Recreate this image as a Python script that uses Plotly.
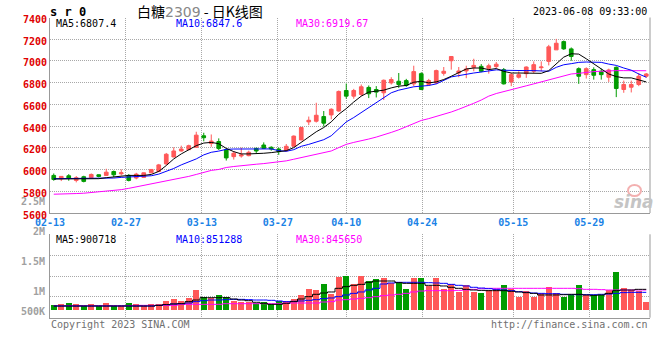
import plotly.graph_objects as go

# ---------------- data ----------------
DATES = ["02-13","02-14","02-15","02-16","02-17","02-20","02-21","02-22","02-23","02-24",
         "02-27","02-28","03-01","03-02","03-03","03-06","03-07","03-08","03-09","03-10",
         "03-13","03-14","03-15","03-16","03-17","03-20","03-21","03-22","03-23","03-24",
         "03-27","03-28","03-29","03-30","03-31","04-03","04-04","04-06","04-07",
         "04-10","04-11","04-12","04-13","04-14","04-17","04-18","04-19","04-20","04-21",
         "04-24","04-25","04-26","04-27","04-28","05-04","05-05","05-08","05-09","05-10",
         "05-11","05-12","05-15","05-16","05-17","05-18","05-19","05-22","05-23","05-24",
         "05-25","05-26","05-29","05-30","05-31","06-01","06-02","06-05","06-06","06-07","06-08"]

OPEN = [5946,5915,5943,5900,5934,5925,5952,5946,5982,5961,
        5946,5922,5928,5970,5982,6052,6116,6171,6183,6205,
        6311,6240,6258,6183,6119,6125,6128,6195,6226,6205,
        6189,6174,6214,6272,6439,6445,6488,6503,6539,6728,
        6676,6692,6756,6737,6707,6798,6813,6819,6789,6883,
        6783,6798,6886,7002,6889,6908,6941,6950,6932,6948,
        6920,6807,6850,6883,6905,6938,6996,7102,7178,7111,
        6929,6874,6920,6905,6850,6941,6737,6758,6783,6859]
HIGH = [5964,5940,5958,5940,5943,5964,5955,6007,5991,6001,
        5958,5970,5973,6004,6052,6153,6205,6220,6229,6348,
        6339,6323,6287,6195,6168,6202,6174,6202,6250,6214,
        6202,6235,6314,6393,6488,6615,6539,6564,6728,6792,
        6743,6783,6774,6768,6829,6850,6889,6835,6956,6896,
        6835,6920,6944,7041,6944,6956,7020,6971,6975,6990,
        6935,6889,6904,6950,6996,6996,7148,7203,7188,7124,
        6941,6941,6941,6929,6929,6950,6819,6819,6889,6889]
LOW = [5897,5894,5897,5882,5882,5922,5928,5943,5931,5946,
       5891,5910,5925,5967,5976,6043,6113,6165,6180,6202,
       6260,6210,6180,6083,6092,6110,6122,6153,6189,6174,
       6135,6165,6211,6272,6409,6433,6396,6463,6533,6652,
       6652,6676,6658,6664,6640,6783,6752,6762,6768,6731,
       6774,6786,6865,6920,6850,6841,6905,6896,6883,6935,
       6783,6768,6838,6844,6889,6905,6959,7102,7102,7002,
       6789,6838,6828,6828,6807,6667,6707,6710,6768,6844]
CLOSE = [5909,5937,5919,5925,5891,5955,5937,5976,5952,5970,
         5900,5958,5970,6001,6043,6141,6171,6189,6220,6317,
         6293,6262,6193,6107,6150,6135,6159,6171,6195,6189,
         6165,6214,6308,6387,6454,6500,6427,6555,6719,6676,
         6728,6762,6698,6713,6822,6829,6783,6774,6902,6737,
         6819,6911,6905,7041,6908,6926,6959,6905,6956,6970,
         6789,6874,6874,6944,6966,6944,7130,7163,7111,7041,
         6859,6929,6868,6874,6917,6746,6783,6783,6859,6880]

MA5 = [5913,5913,5914,5914,5915,5915,5916,5925,5934,5943,
       5946,5946,5946,5955,5983,6037,6098,6144,6183,6220,
       6244,6250,6238,6195,6165,6144,6144,6144,6150,6156,
       6165,6174,6202,6250,6305,6348,6387,6439,6509,6561,
       6622,6676,6713,6722,6731,6752,6768,6774,6804,6813,
       6798,6807,6829,6859,6896,6926,6935,6935,6920,6930,
       6904,6889,6889,6889,6889,6886,6911,6972,7035,7066,
       7063,7020,6972,6920,6880,6856,6844,6844,6825,6807]
MA10 = [5916,5916,5916,5916,5916,5916,5916,5916,5922,5928,
        5931,5931,5934,5943,5958,5983,6010,6043,6068,6098,
        6135,6159,6170,6186,6189,6189,6189,6189,6190,6190,
        6174,6168,6183,6214,6232,6256,6275,6311,6372,6439,
        6479,6524,6567,6612,6661,6707,6731,6749,6762,6768,
        6774,6789,6822,6853,6865,6880,6889,6898,6908,6918,
        6914,6911,6911,6911,6911,6905,6905,6941,6965,6975,
        6987,6990,6990,6987,6971,6959,6935,6915,6880,6850]
MA30 = [5773,5773,5776,5779,5782,5788,5794,5800,5806,5815,
        5827,5840,5852,5867,5882,5894,5906,5922,5937,5955,
        5976,5992,6001,6019,6028,6037,6043,6049,6055,6062,
        6068,6080,6095,6110,6122,6138,6150,6171,6202,6232,
        6250,6262,6281,6299,6317,6342,6366,6396,6427,6452,
        6469,6488,6506,6530,6555,6579,6610,6640,6676,6700,
        6716,6734,6752,6771,6789,6807,6829,6847,6865,6880,
        6886,6895,6902,6905,6911,6911,6911,6910,6910,6910]

VOLUME_K = [639,655,672,655,611,655,611,672,611,611,
            672,655,611,655,655,706,739,706,756,878,
            772,756,795,767,706,689,689,672,689,645,
            706,706,739,795,906,889,989,822,1094,1122,
            978,1111,1039,1072,1089,1000,1011,905,1089,1089,
            955,1089,905,978,855,966,855,839,889,900,
            972,900,761,872,761,833,933,833,761,805,
            972,805,805,805,889,1178,922,889,866,677]
VMA5_K = [622]*14 + [633,645,656,661,695,722,761,761,761,761,739,722,711,684,667,650,650,667,695,739,
                     778,817,839,856,917,945,967,983,1017,1039,1039,1039,1011,1000,1000,1000,967,967,956,934,
                     917,900,889,883,878,878,878,867,856,845,833,806,806,806,811,817,817,806,800,806,
                     833,878,889,889,900,900]
VMA10_K = [622]*14 + [633,645,656,661,672,695,711,722,722,728,733,733,728,722,722,717,706,695,700,706,
                      717,728,745,756,778,806,833,856,889,917,989,1006,1017,1017,1017,1017,1011,1006,1000,983,
                      967,956,934,922,911,900,889,878,861,850,839,833,828,828,817,811,811,811,811,817,
                      822,833,845,850,850,850]
VMA30_K = ([628]*11 + [633]*6 + [650]*6 + [661]*8 + [672]*5 +
           [689,695,722,728,739,750,761,778,795,806,817,833,856,872,878,878,878,878,883,889,900,911,917] +
           [917]*11 + [911,900,900,895,889,889,889,889,889,889])

TICK_DATES = ["02-13","02-27","03-13","03-27","04-10","04-24","05-15","05-29"]
PRICE_TICKS = [5600,5800,6000,6200,6400,6600,6800,7000,7200,7400]
VOL_LABELS = ["2.5M","2M","1.5M","1M","500K"]

TITLE_CODE = "2309"
LAST_MA = {"MA5": "6807.4", "MA10": "6847.6", "MA30": "6919.67"}
LAST_VMA = {"MA5": "900718", "MA10": "851288", "MA30": "845650"}

# ---------------- styling / layout constants ----------------
W, H = 660, 360
X0, X1 = 50, 650
P_TOP, P_BOT = 17.5, 213.0
V_TOP, V_BOT = 234.3, 317.7
VOL_RANGE = [427375, 1817403]
VOL_BASE = 544044
RED, GREEN = "#ff5858", "#009c00"
GRID = "#a8a8a8"
AXLINE = "#999999"
MONO = "DejaVu Sans Mono"

def py(y):
    return 1 - y / H

def px(x):
    return x / W

n = len(DATES)
idx = list(range(n))
vol = [v * 1000 for v in VOLUME_K]
vcolors = [RED if c >= o else GREEN for o, c in zip(OPEN, CLOSE)]
tick_idx = [DATES.index(d) for d in TICK_DATES]
tick_pos = [i * n / (n - 1) - 0.5 for i in tick_idx]

fig = go.Figure()

fig.add_trace(go.Candlestick(
    x=idx, open=OPEN, high=HIGH, low=LOW, close=CLOSE,
    increasing=dict(line=dict(color=RED, width=1), fillcolor=RED),
    decreasing=dict(line=dict(color=GREEN, width=1), fillcolor=GREEN),
    whiskerwidth=0, showlegend=False, hoverinfo="skip", xaxis="x", yaxis="y"))

for vals, col in [(MA30, "#ff00ff"), (MA10, "#0000ff"), (MA5, "#000000")]:
    fig.add_trace(go.Scatter(x=idx, y=vals, mode="lines", line=dict(color=col, width=1),
                             showlegend=False, hoverinfo="skip", xaxis="x", yaxis="y"))

fig.add_trace(go.Bar(x=idx, y=[v - VOL_BASE for v in vol], base=VOL_BASE,
                     marker=dict(color=vcolors, line=dict(width=0)), width=0.8,
                     showlegend=False, hoverinfo="skip", xaxis="x2", yaxis="y2"))

for vals, col in [(VMA30_K, "#ff00ff"), (VMA10_K, "#0000ff"), (VMA5_K, "#000000")]:
    fig.add_trace(go.Scatter(x=idx, y=[v * 1000 for v in vals], mode="lines",
                             line=dict(color=col, width=1, shape="hvh"),
                             showlegend=False, hoverinfo="skip", xaxis="x2", yaxis="y2"))

vspan = VOL_RANGE[1] - VOL_RANGE[0]
vol_grid = [VOL_RANGE[0] + vspan * k / 4 for k in (1, 2, 3, 4)]

xcommon = dict(domain=[px(X0), px(X1)], range=[-0.5, n - 0.5], tickmode="array",
               tickvals=tick_pos, showgrid=True, gridcolor=GRID, griddash="1px,1px",
               gridwidth=1, showline=True, linecolor=AXLINE, linewidth=1, ticks="",
               zeroline=False, fixedrange=True, automargin=False)

fig.update_layout(
    width=W, height=H, autosize=False,
    margin=dict(l=0, r=0, t=0, b=0, pad=0),
    paper_bgcolor="white", plot_bgcolor="white",
    font=dict(family=MONO, size=10, color="#000"),
    showlegend=False, bargap=0,
    xaxis=dict(**xcommon, anchor="y", ticktext=TICK_DATES,
               tickfont=dict(family=MONO, size=10, color="#1a82e6", weight="bold"),
               rangeslider=dict(visible=False)),
    yaxis=dict(domain=[py(P_BOT), py(P_TOP)], range=[PRICE_TICKS[0], PRICE_TICKS[-1]],
               tickmode="array", tickvals=PRICE_TICKS, ticktext=[str(t) for t in PRICE_TICKS],
               tickfont=dict(family=MONO, size=10, color="#e00000", weight="bold"),
               showgrid=True, gridcolor=GRID, griddash="1px,1px", showline=True,
               linecolor=AXLINE, ticks="", zeroline=False, anchor="x", ticklabelshift=2,
               automargin=False),
    xaxis2=dict(**xcommon, anchor="y2", showticklabels=False),
    yaxis2=dict(domain=[py(V_BOT), py(V_TOP)], range=VOL_RANGE, tickmode="array",
                tickvals=vol_grid, showticklabels=False, showgrid=True, gridcolor=GRID,
                griddash="1px,1px", showline=True, linecolor=AXLINE, ticks="",
                zeroline=False, anchor="x2", automargin=False),
)

# right borders
for top, bot in [(P_TOP, P_BOT), (V_TOP, V_BOT)]:
    fig.add_shape(type="line", xref="paper", yref="paper", x0=px(X1), x1=px(X1),
                  y0=py(top), y1=py(bot), line=dict(color=AXLINE, width=1))

ann = []
def text(x, y, s, color="#000", size=10, xanchor="left", family=MONO, weight="normal"):
    ann.append(dict(x=px(x), y=py(y), xref="paper", yref="paper", text=s, showarrow=False,
                    xanchor=xanchor, yanchor="middle",
                    font=dict(family=family, size=size, color=color, weight=weight)))

text(48, 12, "s r 0", size=12, weight="bold")
text(200, 11, "白糖<span style='color:#888888;font-family:DejaVu Sans'>" + TITLE_CODE +
     "</span> - 日K线图", size=14, xanchor="center", family="Noto Sans CJK SC")
text(649, 12, "2023-06-08 09:33:00", xanchor="right")
text(54, 24, "MA5:" + LAST_MA["MA5"])
text(174, 24, "MA10:" + LAST_MA["MA10"], color="#0000ff")
text(294, 24, "MA30:" + LAST_MA["MA30"], color="#ff00ff")
text(54, 239, "MA5:" + LAST_VMA["MA5"])
text(174, 239, "MA10:" + LAST_VMA["MA10"], color="#0000ff")
text(294, 239, "MA30:" + LAST_VMA["MA30"], color="#ff00ff")
for lab, y in zip(VOL_LABELS, [201, 231, 261, 291, 311]):
    text(47, y, lab, color="#a0a0a0", xanchor="right", weight="bold")
text(49, 324, "Copyright 2023 SINA.COM", color="#707070")
text(650, 324, "http://finance.sina.com.cn", color="#707070", xanchor="right")
# sina watermark
text(634, 202, "<i>sina</i>", color="#c4c4c4", size=17, xanchor="center",
     family="DejaVu Sans", weight="bold")
fig.add_shape(type="circle", xref="paper", yref="paper", x0=px(628), x1=px(641),
              y0=py(196), y1=py(185), line=dict(color="#f3b0b0", width=2))

fig.update_layout(annotations=ann)
fig.write_html("out.html", config={"displayModeBar": False},
               post_script="document.body.style.margin='0';document.body.style.overflow='hidden';")
